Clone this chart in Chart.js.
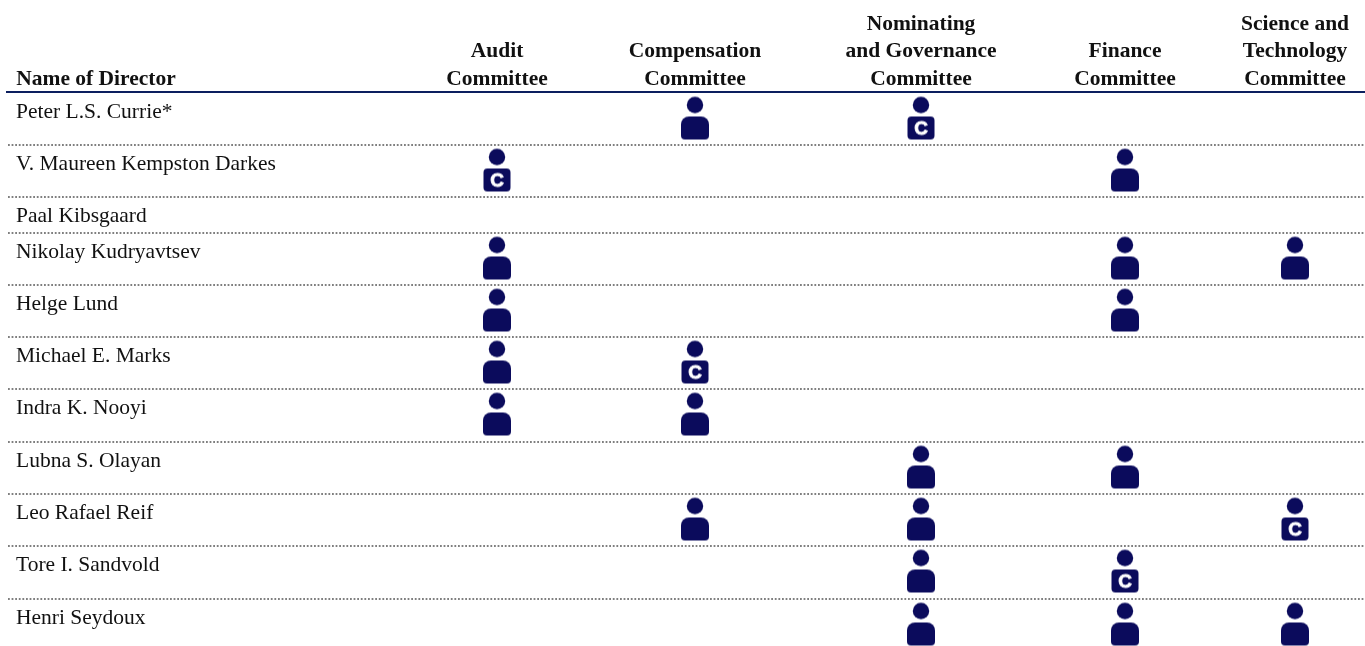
<!DOCTYPE html>
<html>
<head>
<meta charset="utf-8">
<title>Committee membership</title>
<script src="https://cdn.jsdelivr.net/npm/chart.js@4/dist/chart.umd.min.js"></script>
<style>
  html, body { margin: 0; padding: 0; background: #fff; overflow: hidden; }
  canvas { display: block; }
</style>
</head>
<body>
<canvas id="boardChart" width="1365" height="646"></canvas>
<script>
const directors = [
    'Peter L.S. Currie*',
    'V. Maureen Kempston Darkes',
    'Paal Kibsgaard',
    'Nikolay Kudryavtsev',
    'Helge Lund',
    'Michael E. Marks',
    'Indra K. Nooyi',
    'Lubna S. Olayan',
    'Leo Rafael Reif',
    'Tore I. Sandvold',
    'Henri Seydoux'
];
const columnHeaders = [
    ['Name of Director'],
    ['Audit', 'Committee'],
    ['Compensation', 'Committee'],
    ['Nominating', 'and Governance', 'Committee'],
    ['Finance', 'Committee'],
    ['Science and', 'Technology', 'Committee']
];

// director index lists per committee, header index is the position in columnHeaders
const auditMembers = [3, 4, 5, 6];
const auditChairs = [1];
const compensationMembers = [0, 6, 8];
const compensationChairs = [5];
const nominatingMembers = [7, 8, 9, 10];
const nominatingChairs = [0];
const financeMembers = [1, 3, 4, 7, 10];
const financeChairs = [9];
const scienceMembers = [3, 10];
const scienceChairs = [8];

// page layout, in pixels
const columnCenters = [96, 497, 695, 921, 1125, 1295];
const rowLines = [92.5, 144.5, 196.5, 232.5, 284.5, 336.5, 388.5, 441.5, 493.5, 545.5, 598.5];

const NAVY = '#0b0b5c';

function memberIcon(isChair) {
    const c = document.createElement('canvas');
    c.width = 32;
    c.height = 46;
    const g = c.getContext('2d');
    g.filter = 'blur(0.5px)'; // source icons are low resolution
    g.fillStyle = NAVY;
    g.beginPath();
    g.arc(16, 9.5, 8.2, 0, Math.PI * 2);
    g.fill();
    g.beginPath();
    if (isChair) {
        g.roundRect(2.5, 21, 27, 23, 4);
    } else {
        g.roundRect(2, 21, 28, 23, [8, 8, 4, 4]);
    }
    g.fill();
    if (isChair) {
        g.fillStyle = '#fff';
        g.strokeStyle = '#fff';
        g.lineWidth = 0.8;
        g.font = 'bold 19px "Liberation Sans"';
        g.textAlign = 'center';
        g.textBaseline = 'middle';
        g.fillText('C', 16, 33.5);
        g.strokeText('C', 16, 33.5);
    }
    return c;
}

// category scale whose rows and columns have their own widths
class PlacedCategoryScale extends Chart.CategoryScale {
    labelPixel(index) {
        if (this.axis === 'x') {
            return columnCenters[index];
        }
        return rowLines[index] + 19.5;
    }
    getPixelForValue(value) {
        const index = typeof value === 'number' ? value : this.parse(value);
        if (this.axis === 'x') {
            return columnCenters[index];
        }
        return rowLines[index] + 26;
    }
    getPixelForTick(index) {
        return this.labelPixel(this.ticks[index].value);
    }
}
PlacedCategoryScale.id = 'placedCategory';
PlacedCategoryScale.defaults = Chart.CategoryScale.defaults;
Chart.register(PlacedCategoryScale);

function points(column, rows) {
    return rows.map(r => ({ x: column, y: r }));
}

const memberPoints = [
    ...points(1, auditMembers),
    ...points(2, compensationMembers),
    ...points(3, nominatingMembers),
    ...points(4, financeMembers),
    ...points(5, scienceMembers)
];
const chairPoints = [
    ...points(1, auditChairs),
    ...points(2, compensationChairs),
    ...points(3, nominatingChairs),
    ...points(4, financeChairs),
    ...points(5, scienceChairs)
];

const rowRules = {
    id: 'rowRules',
    beforeDatasetsDraw(chart) {
        const g = chart.ctx;
        const area = chart.chartArea;
        g.save();
        g.strokeStyle = '#555';
        g.lineWidth = 1.5;
        g.setLineDash([1.8, 1.8]);
        rowLines.slice(1).forEach(y => {
            g.beginPath();
            g.moveTo(area.left + 1, y + 0.5);
            g.lineTo(area.right, y + 0.5);
            g.stroke();
        });
        g.restore();
    }
};

new Chart(document.getElementById('boardChart'), {
    type: 'scatter',
    data: {
        datasets: [
            {
                label: 'Member',
                data: memberPoints,
                pointStyle: memberIcon(false),
                clip: false
            },
            {
                label: 'Chair',
                data: chairPoints,
                pointStyle: memberIcon(true),
                clip: false
            }
        ]
    },
    plugins: [rowRules],
    options: {
        responsive: false,
        animation: false,
        parsing: false,
        normalized: true,
        layout: { autoPadding: false, padding: 0 },
        plugins: {
            legend: { display: false },
            tooltip: { enabled: false }
        },
        scales: {
            x: {
                type: 'placedCategory',
                position: 'top',
                labels: columnHeaders,
                grid: { display: false, drawTicks: false },
                border: { display: true, color: '#0c1f5f', width: 2 },
                afterFit: s => { s.height = 92; },
                ticks: {
                    autoSkip: false,
                    maxRotation: 0,
                    minRotation: 0,
                    padding: -1,
                    color: '#111',
                    font: { family: '"Liberation Serif"', size: 21.5, weight: 'bold', lineHeight: '27.5px' }
                }
            },
            y: {
                type: 'placedCategory',
                position: 'left',
                labels: directors,
                grid: { display: false, drawTicks: false },
                border: { display: false },
                afterFit: s => { s.width = 7; },
                ticks: {
                    autoSkip: false,
                    mirror: true,
                    padding: 9,
                    color: '#111',
                    font: { family: '"Liberation Serif"', size: 21.5 }
                }
            }
        }
    }
});
</script>
</body>
</html>
